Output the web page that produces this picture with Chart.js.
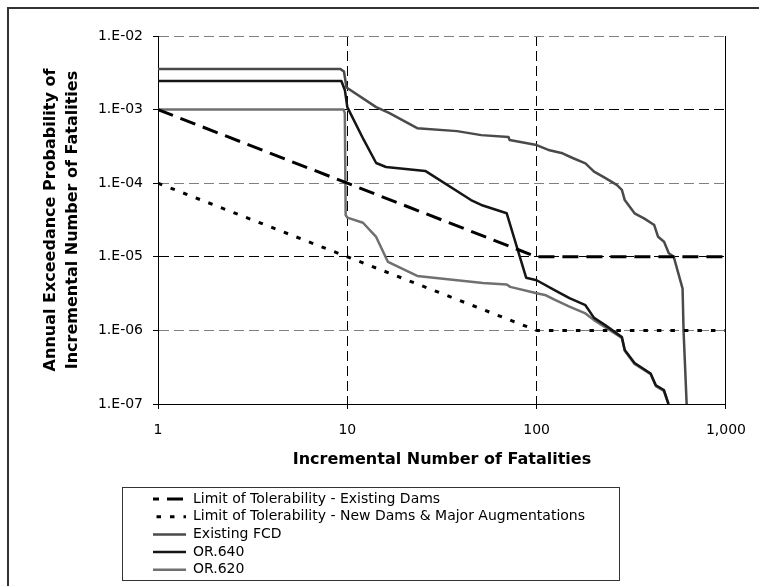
<!DOCTYPE html>
<html>
<head>
<meta charset="utf-8">
<script src="https://cdn.jsdelivr.net/npm/chart.js@4/dist/chart.umd.min.js"></script>
<style>
    html, body { margin: 0; padding: 0; background: #fff; overflow: hidden; }
    canvas { display: block; }
</style>
</head>
<body>
<canvas id="fnChart" width="759" height="586"></canvas>
<script>
// axis ticks
const xTicks = [1, 10, 100, 1000];
const xTickLabels = ['1', '10', '100', '1,000'];
const yTicks = [1e-2, 1e-3, 1e-4, 1e-5, 1e-6, 1e-7];
const yTickLabels = ['1.E-02', '1.E-03', '1.E-04', '1.E-05', '1.E-06', '1.E-07'];

// limit lines
const limitExistingX = [1, 100, 1000];
const limitExistingY = [1e-3, 1e-5, 1e-5];
const limitNewX = [1, 100, 1000];
const limitNewY = [1e-4, 1e-6, 1e-6];

// Existing FCD
const fcdX = [1, 9.2, 9.6, 9.9, 14.2, 16.6, 23.4, 38, 51, 71, 72, 100, 117, 137, 155, 181, 201, 231, 265, 282,
              292, 329, 371, 418, 438, 471, 499, 530, 590, 597, 620];
const fcdY = [3.55e-3, 3.55e-3, 3.3e-3, 2.0e-3, 1.08e-3, 9.0e-4, 5.6e-4, 5.1e-4, 4.5e-4, 4.24e-4, 3.86e-4, 3.3e-4,
              2.8e-4, 2.55e-4, 2.2e-4, 1.86e-4, 1.44e-4, 1.17e-4, 9.5e-5, 8.1e-5,
              5.9e-5, 3.9e-5, 3.3e-5, 2.7e-5, 1.87e-5, 1.6e-5, 1.12e-5, 1.0e-5, 3.7e-6, 1.0e-6, 1.0e-7];

// OR.640
const or640X = [1, 9.3, 9.7, 10, 12.2, 14.2, 16, 25.8, 45, 51, 69.5, 88, 100, 125, 149, 181, 201, 231, 282,
                292, 329, 400, 426, 470, 497];
const or640Y = [2.45e-3, 2.45e-3, 1.85e-3, 1.08e-3, 3.9e-4, 1.88e-4, 1.66e-4, 1.47e-4, 5.9e-5, 5.06e-5, 3.9e-5,
                5.2e-6, 4.8e-6, 3.5e-6, 2.75e-6, 2.2e-6, 1.48e-6, 1.17e-6, 8.1e-7,
                5.4e-7, 3.6e-7, 2.6e-7, 1.8e-7, 1.55e-7, 1.0e-7];

// OR.620
const or620X = [1, 9.55, 9.7, 9.8, 10, 12.1, 14.2, 16.4, 23.4, 38, 52, 69.5, 72.5, 100, 112, 125, 149, 181, 201,
                231, 282, 292, 329, 400, 426, 470, 497];
const or620Y = [1e-3, 1e-3, 9e-4, 3.7e-5, 3.4e-5, 2.9e-5, 1.86e-5, 8.5e-6, 5.5e-6, 4.8e-6, 4.4e-6, 4.2e-6, 3.9e-6,
                3.2e-6, 3.0e-6, 2.6e-6, 2.1e-6, 1.7e-6, 1.38e-6,
                1.1e-6, 7.9e-7, 5.3e-7, 3.5e-7, 2.55e-7, 1.75e-7, 1.5e-7, 1.0e-7];

const pts = (xs, ys) => xs.map((x, i) => ({ x: x, y: ys[i] }));
const labelFor = (v, ticks, labels) => {
    const i = ticks.findIndex(t => Math.abs(Math.log10(t) - Math.log10(v)) < 1e-6);
    return i >= 0 ? labels[i] : '';
};

Chart.defaults.font.family = "'DejaVu Sans', Arial, sans-serif";
Chart.defaults.color = '#000';

const serie = (label, xs, ys, color, width, dash) => ({
    label: label,
    data: pts(xs, ys),
    borderColor: color,
    backgroundColor: color,
    borderWidth: width,
    borderDash: dash,
    borderJoinStyle: 'round',
    pointRadius: 0,
    pointHoverRadius: 0,
    fill: false,
    tension: 0
});

const datasets = [
    serie('Limit of Tolerability - Existing Dams', limitExistingX, limitExistingY, '#000', 3, [16, 8]),
    serie('Limit of Tolerability - New Dams & Major Augmentations', limitNewX, limitNewY, '#000', 3, [4.5, 9]),
    serie('Existing FCD', fcdX, fcdY, '#4a4a4a', 2.5, []),
    serie('OR.640', or640X, or640Y, '#151515', 2.5, []),
    serie('OR.620', or620X, or620Y, '#707070', 2.5, [])
];

const framePlugin = {
    id: 'frame',
    beforeDraw(chart) {
        const ctx = chart.ctx;
        ctx.save();
        ctx.fillStyle = '#fff';
        ctx.fillRect(0, 0, chart.width, chart.height);
        ctx.restore();
    },
    afterLayout(chart) {
        const lg = chart.legend;
        if (!lg) return;
        lg.left = 149.3;
        lg.top = 488.3;
        lg.right = 619;
        lg.bottom = 581;
        lg.width = lg.right - lg.left;
        lg.height = lg.bottom - lg.top;
    },
    afterDraw(chart) {
        const ctx = chart.ctx;
        ctx.save();
        ctx.setLineDash([]);
        ctx.strokeStyle = '#333';
        ctx.lineWidth = 1;
        ctx.strokeRect(122.5, 487.5, 497, 93);
        // outer frame, only top and left are inside the picture
        ctx.lineWidth = 2;
        ctx.beginPath();
        ctx.moveTo(8, chart.height);
        ctx.lineTo(8, 8);
        ctx.lineTo(chart.width, 8);
        ctx.stroke();
        ctx.restore();
    }
};

new Chart(document.getElementById('fnChart'), {
    type: 'line',
    data: { datasets },
    options: {
        responsive: false,
        animation: false,
        devicePixelRatio: 1,
        layout: { padding: { left: 20, top: 36, right: 23, bottom: 112 } },
        scales: {
            x: {
                type: 'logarithmic',
                min: 1,
                max: 1000,
                afterBuildTicks: s => { s.ticks = xTicks.map(v => ({ value: v })); },
                afterFit: s => { s.height = 70; },
                ticks: {
                    autoSkip: false,
                    maxRotation: 0,
                    padding: 13,
                    font: { size: 14 },
                    color: '#000',
                    callback: v => labelFor(v, xTicks, xTickLabels)
                },
                grid: {
                    color: c => (!c.tick || c.tick.value === 1) ? 'rgba(0,0,0,0)' : '#000',
                    lineWidth: 1,
                    tickLength: 5,
                    tickColor: '#000',
                    tickWidth: 1
                },
                border: {
                    display: true,
                    color: '#000',
                    width: 1,
                    dash: c => (c.tick && c.tick.value !== 1000) ? [10, 5] : []
                },
                title: {
                    display: true,
                    text: 'Incremental Number of Fatalities',
                    color: '#000',
                    font: { size: 16, weight: 'bold', lineHeight: 1.2 },
                    padding: { top: 0, bottom: 4.4 }
                }
            },
            y: {
                type: 'logarithmic',
                min: 1e-7,
                max: 1e-2,
                afterBuildTicks: s => { s.ticks = yTicks.map(v => ({ value: v })); },
                afterFit: s => { s.width = 138; },
                ticks: {
                    autoSkip: false,
                    padding: 10,
                    font: { size: 14 },
                    color: '#000',
                    callback: v => labelFor(v, yTicks, yTickLabels)
                },
                grid: {
                    color: c => {
                        if (!c.tick || c.tick.value < 1.5e-7) return 'rgba(0,0,0,0)';
                        const e = Math.round(-Math.log10(c.tick.value));
                        return e % 2 === 0 ? '#808080' : '#000';
                    },
                    lineWidth: 1,
                    tickLength: 5,
                    tickColor: '#000',
                    tickWidth: 1
                },
                border: {
                    display: true,
                    color: '#000',
                    width: 1,
                    dash: c => (c.tick && c.tick.value > 1.5e-7) ? [10, 5] : []
                },
                title: {
                    display: true,
                    text: ['Annual Exceedance Probability of', 'Incremental Number of Fatalities'],
                    color: '#000',
                    font: { size: 16, weight: 'bold', lineHeight: '22px' },
                    padding: { top: 20, bottom: 0 }
                }
            }
        },
        plugins: {
            legend: {
                position: 'chartArea',
                align: 'start',
                labels: {
                    usePointStyle: true,
                    pointStyle: 'line',
                    pointStyleWidth: 33,
                    font: { size: 14 },
                    color: '#000',
                    padding: 3.7,
                    generateLabels: chart => {
                        const items = Chart.defaults.plugins.legend.labels.generateLabels(chart);
                        return items.map(item => {
                            const ds = chart.data.datasets[item.datasetIndex];
                            item.pointStyle = 'line';
                            item.strokeStyle = ds.borderColor;
                            item.fillStyle = ds.borderColor;
                            item.lineWidth = ds.borderWidth;
                            item.lineDash = ds.borderDash;
                            item.lineDashOffset = ds.borderDash.length ? 10 : 0;
                            return item;
                        });
                    }
                }
            },
            tooltip: { enabled: false }
        }
    },
    plugins: [framePlugin]
});
</script>
</body>
</html>
